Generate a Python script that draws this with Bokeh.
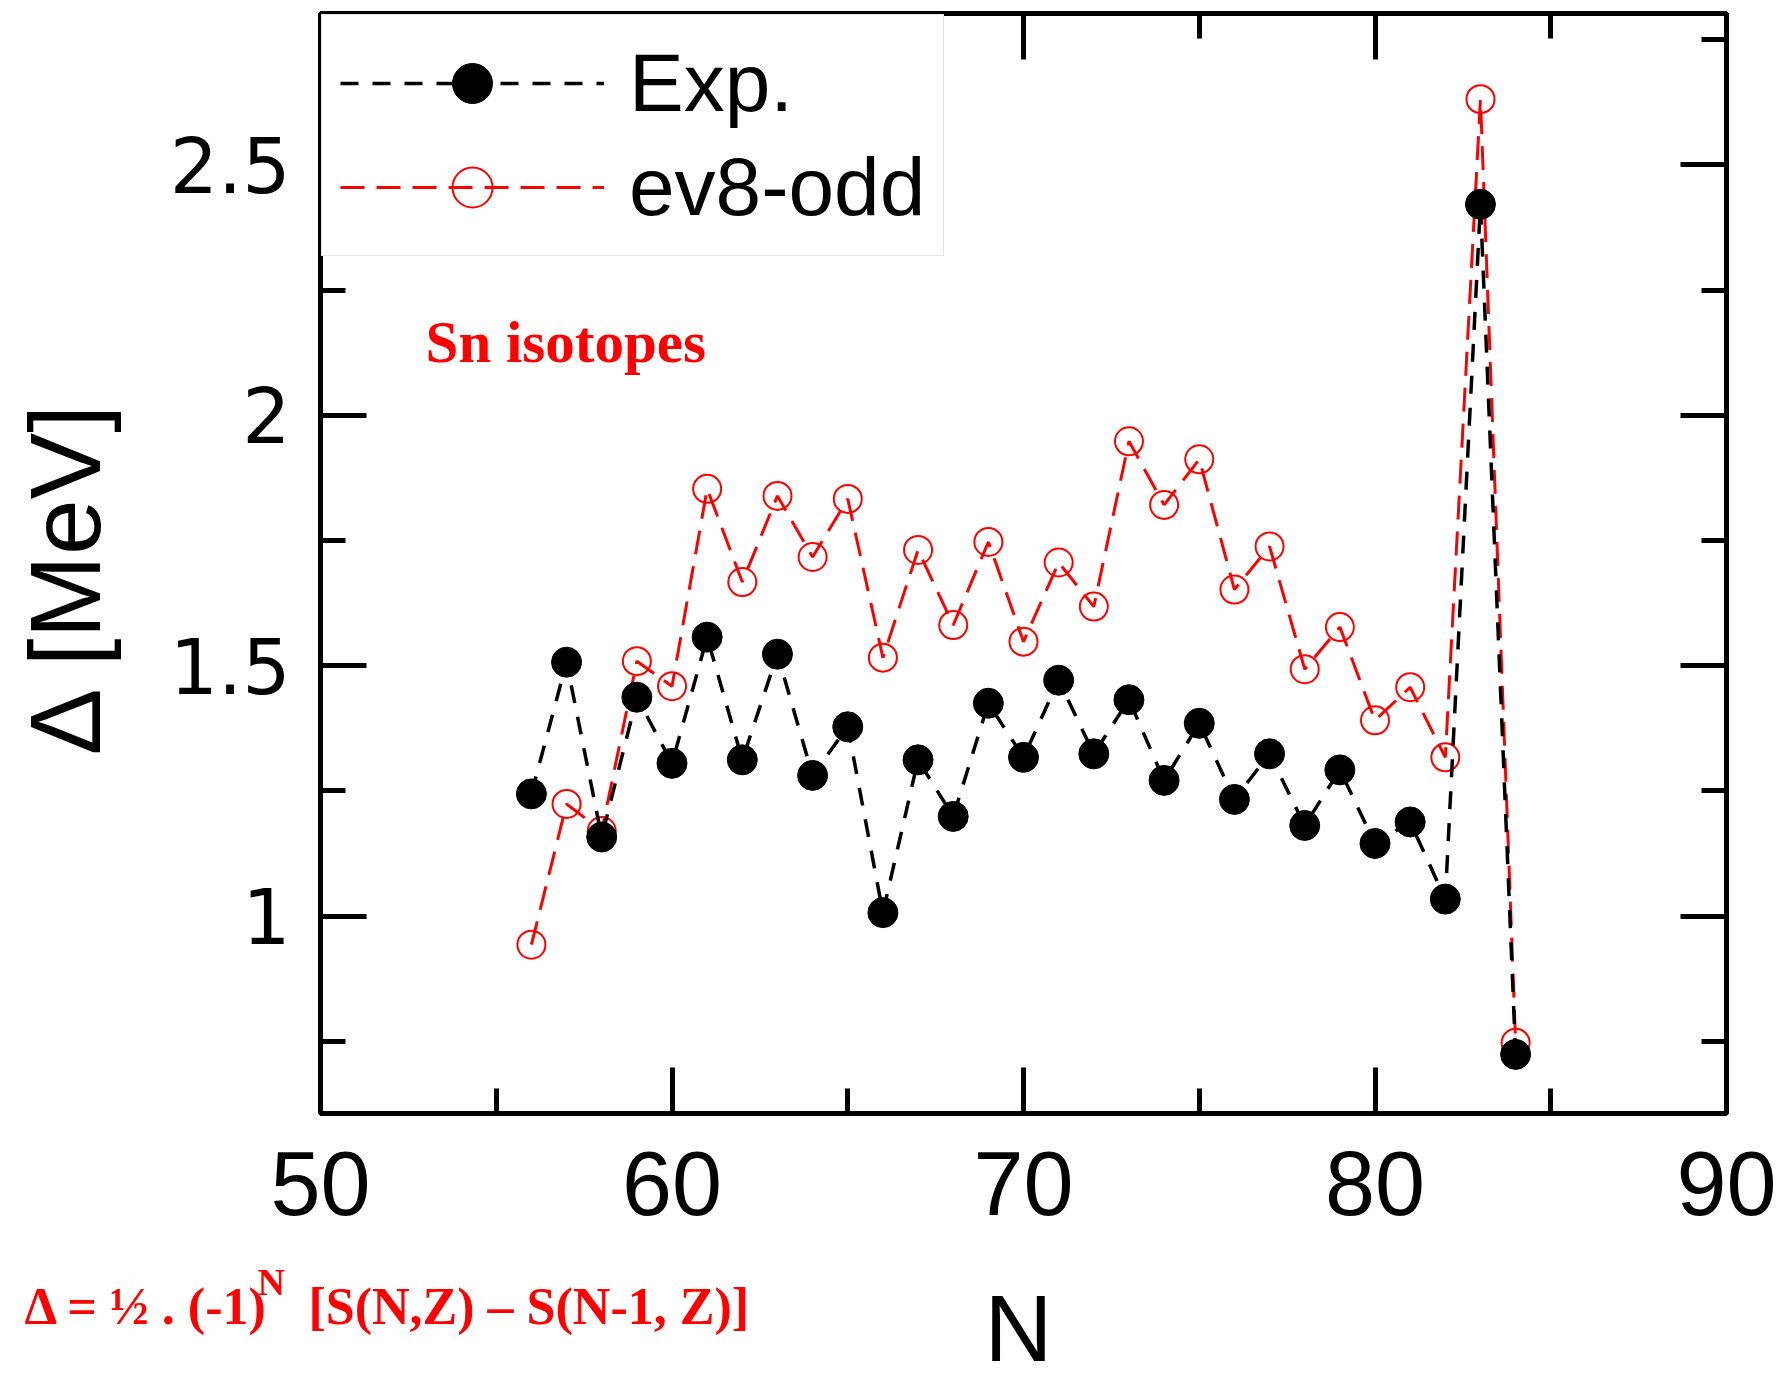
from bokeh.plotting import figure
from bokeh.models import (Range1d, LinearAxis, FixedTicker, Legend, LegendItem, Label, Title)
from bokeh.embed import file_html
from bokeh.resources import INLINE

# ---- data ----
neutrons = list(range(56, 85))
exp_vals = [1.244, 1.507, 1.158, 1.437, 1.305, 1.557, 1.312, 1.523, 1.281, 1.378,
            1.007, 1.312, 1.199, 1.425, 1.317, 1.471, 1.324, 1.432, 1.271, 1.385,
            1.233, 1.324, 1.181, 1.292, 1.145, 1.188, 1.034, 2.421, 0.724]
ev8_vals = [0.943, 1.224, 1.170, 1.509, 1.459, 1.853, 1.667, 1.839, 1.717, 1.833,
            1.516, 1.731, 1.581, 1.747, 1.548, 1.706, 1.618, 1.948, 1.821, 1.912,
            1.652, 1.738, 1.493, 1.577, 1.391, 1.457, 1.317, 2.631, 0.747]
series_names = ["Exp.", "ev8-odd"]
x_ticks = [50, 60, 70, 80, 90]
x_minor = [55, 65, 75, 85]
y_ticks = [1, 1.5, 2, 2.5]
y_tick_labels = ["1", "1.5", "2", "2.5"]
y_minor = [0.75, 1.25, 1.75, 2.25, 2.75]

p = figure(width=1777, height=1381, output_backend="svg", toolbar_location=None,
           x_range=Range1d(50, 90), y_range=Range1d(0.606, 2.802),
           x_axis_location=None, y_axis_location=None,
           min_border_left=320, min_border_right=51, min_border_top=13, min_border_bottom=268)
p.xgrid.visible = False
p.ygrid.visible = False
p.outline_line_color = "black"
p.outline_line_width = 5
p.background_fill_color = "white"
p.border_fill_color = "white"

def style_axis(ax, ticks, minor):
    ax.ticker = FixedTicker(ticks=ticks, minor_ticks=minor)
    ax.axis_line_width = 5
    ax.axis_line_color = "black"
    ax.major_tick_in = 46
    ax.major_tick_out = 0
    ax.minor_tick_in = 25
    ax.minor_tick_out = 0
    ax.major_tick_line_width = 5
    ax.minor_tick_line_width = 5
    ax.major_tick_line_color = "black"
    ax.minor_tick_line_color = "black"
    ax.major_label_text_color = "black"

xb = LinearAxis()
style_axis(xb, x_ticks, x_minor)
xb.major_label_text_font = "Liberation Sans"
xb.major_label_text_font_size = "90px"
xb.major_label_standoff = 38
p.add_layout(xb, "below")

yl = LinearAxis()
style_axis(yl, y_ticks, y_minor)
yl.major_label_text_font = "DejaVu Sans"
yl.major_label_text_font_size = "76px"
yl.major_label_overrides = dict(zip(y_ticks, y_tick_labels))
yl.major_label_standoff = 30
yl.axis_label = "\u0394  [MeV]"
yl.axis_label_text_font = "Liberation Sans"
yl.axis_label_text_font_size = "100px"
yl.axis_label_text_font_style = "normal"
yl.axis_label_text_color = "black"
yl.axis_label_standoff = 46
p.add_layout(yl, "left")

xa = LinearAxis()
style_axis(xa, x_ticks, x_minor)
xa.major_label_overrides = {t: "" for t in x_ticks}
xa.major_label_standoff = 0
p.add_layout(xa, "above")

yr = LinearAxis()
style_axis(yr, y_ticks, y_minor)
yr.major_label_overrides = {t: "" for t in y_ticks}
yr.major_label_standoff = 0
p.add_layout(yr, "right")

# ---- series ----
red_line = p.line(neutrons, ev8_vals, line_color="#ff0000", line_width=3, line_dash="24 12")
red_pts = p.scatter(neutrons, ev8_vals, marker="circle", size=28, fill_color=None,
                    line_color="#ff0000", line_width=2)
blk_line = p.line(neutrons, exp_vals, line_color="black", line_width=3.5, line_dash="18 14")
blk_pts = p.scatter(neutrons, exp_vals, marker="circle", size=30, fill_color="black",
                    line_color="black")

legend = Legend(items=[LegendItem(label=series_names[0], renderers=[blk_line, blk_pts]),
                       LegendItem(label=series_names[1], renderers=[red_line, red_pts])],
                location="top_left", margin=1, padding=18, spacing=4,
                glyph_width=264, glyph_height=100, label_height=100, label_standoff=25,
                label_text_font="Liberation Sans", label_text_font_size="82px",
                label_text_color="black",
                border_line_color="#cccccc", border_line_width=1,
                background_fill_color="white", background_fill_alpha=1.0)
p.add_layout(legend)

p.add_layout(Label(x=52.99, y=2.146, text="Sn isotopes", text_color="#ff0000",
                   text_font="Liberation Serif", text_font_style="bold",
                   text_font_size="59px", text_baseline="alphabetic"))

# ---- texts under the x axis (placed as titles in the bottom panel) ----
def serif_red(text, size, offset, standoff):
    return Title(text=text, align="left", vertical_align="top", offset=offset,
                 standoff=standoff, text_color="#ff0000", text_font="Liberation Serif",
                 text_font_style="bold", text_font_size=size)

p.add_layout(serif_red("N", "38px", -63, 86), "below")
p.add_layout(serif_red("\u0394 = \u00bd . (-1)", "52px", -296, -139), "below")
p.add_layout(serif_red("[S(N,Z) \u2013 S(N-1, Z)]", "52px", -12, -139), "below")
p.add_layout(Title(text="N", align="left", vertical_align="top", offset=664, standoff=-143,
                   text_color="black", text_font="Liberation Sans",
                   text_font_style="normal", text_font_size="94px"), "below")

open("out.html", "w").write(file_html(p, INLINE))
